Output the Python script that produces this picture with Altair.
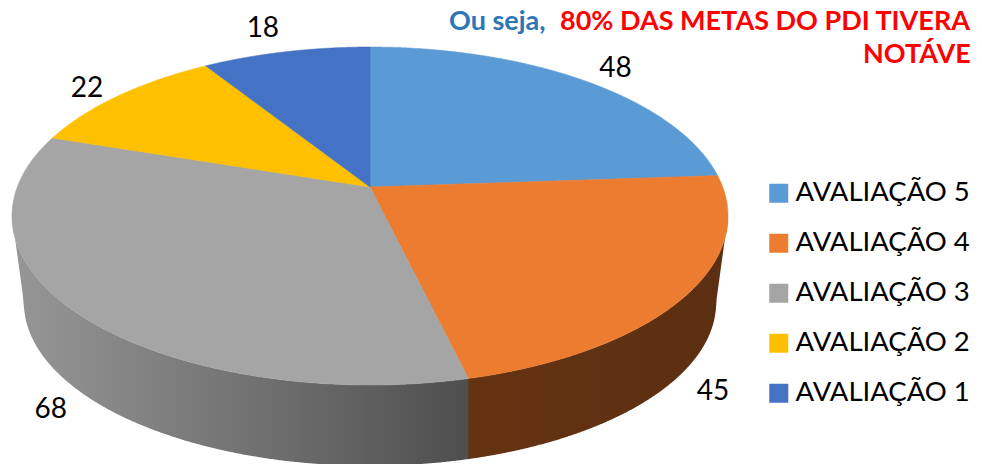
import numpy as np
import pandas as pd
import altair as alt

categories = ["AVALIAÇÃO 5", "AVALIAÇÃO 4", "AVALIAÇÃO 3", "AVALIAÇÃO 2", "AVALIAÇÃO 1"]
values = [48, 45, 68, 22, 18]
colors = ["#5B9BD5", "#EC7C30", "#A5A5A5", "#FFC000", "#4472C4"]
label_reach = [1.155, 1.107, 1.107, 1.106, 1.23]
label_nudge_x = [3, 0, 0, -8, -7]
label_nudge_y = [3, 1, -1, 2, 3]

FONT = "Lato"
W, H = 966, 456
# perspective of the pie disc
CX, CY, A, C, K = 370.0, 187.0, 352.7, 164.0, 0.1716
SHRINK, VANISH = 0.967, 2834.0


def top(t, r=1.0):
    u, v = r * np.sin(t), r * np.cos(t)
    w = 1 + K * v
    return CX + A * u / w, CY - C * v / w


def drop(x, y):
    return CX + SHRINK * (x - CX), y + (1 - SHRINK) * (VANISH - y)


total = sum(values)
edges = 2 * np.pi * np.cumsum([0] + values) / total

# top face of each slice
frames = []
for i, cat in enumerate(categories):
    t = np.linspace(edges[i], edges[i + 1], 240)
    px, py = top(t)
    px = np.r_[CX, px, CX]
    py = np.r_[CY, py, CY]
    grid = np.unique(np.r_[np.linspace(px.min(), px.max(), 300), px])
    hi, lo = [], []
    for g in grid:
        a, b = px[:-1], px[1:]
        ya, yb = py[:-1], py[1:]
        mask = (np.minimum(a, b) <= g) & (g <= np.maximum(a, b))
        f = np.where(b != a, (g - a) / np.where(b != a, b - a, 1), 0.0)
        ys = np.r_[(ya + f * (yb - ya))[mask], ya[mask & (a == g)], yb[mask & (b == g)]]
        hi.append(ys.min())
        lo.append(ys.max())
    frames.append(pd.DataFrame({"x": grid, "y": hi, "y2": lo, "cat": cat}))
faces = pd.concat(frames, ignore_index=True)

# front wall: top rim to bottom rim
t = np.linspace(np.pi / 2 - 0.22, 3 * np.pi / 2 + 0.22, 1200)
rx, ry = top(t)
bx, by = drop(rx, ry)
left_i = np.argmin(rx)
right_i = np.argmax(rx)
keep = (t >= t[right_i]) & (t <= t[left_i])
ex, ey = rx[keep], ry[keep]
lowx = np.r_[rx[right_i], bx[keep], rx[left_i]]
lowy = np.r_[ry[right_i], by[keep], ry[left_i]]
ox = np.argsort(ex)
lx = np.argsort(lowx)
split = top(edges[2])[0]


def wall(x0, x1):
    g = np.unique(np.r_[np.linspace(x0, x1, 300)])
    return pd.DataFrame({"x": g, "y": np.interp(g, ex[ox], ey[ox]),
                         "y2": np.interp(g, lowx[lx], lowy[lx])})


xs = alt.X("x:Q", axis=None, scale=alt.Scale(domain=[8, 974], nice=False, zero=False))
ys = alt.Y("y:Q", axis=None, scale=alt.Scale(domain=[464, 8], nice=False, zero=False))
y2 = alt.Y2("y2:Q")


def grad(stops):
    return alt.Gradient(gradient="linear", x1=0, x2=1, y1=0, y2=0,
                        stops=[alt.GradientStop(offset=o, color=c) for o, c in stops])


wall_gray = alt.Chart(wall(rx.min(), split + 1.0)).mark_area(
    color=grad([(0, "#979797"), (0.6, "#6c6c6c"), (1, "#4e4e4e")])
).encode(x=xs, y=ys, y2=y2)
wall_orange = alt.Chart(wall(split, rx.max())).mark_area(
    color=grad([(0, "#643312"), (1, "#5c2f12")])
).encode(x=xs, y=ys, y2=y2)

face_layer = alt.Chart(faces).mark_area(strokeWidth=0.6).encode(
    x=xs, y=ys, y2=y2,
    stroke=alt.Stroke("cat:N", scale=alt.Scale(domain=categories, range=colors), legend=None),
    color=alt.Color(
        "cat:N",
        scale=alt.Scale(domain=categories, range=colors),
        sort=categories,
        legend=alt.Legend(
            title=None, orient="none", legendX=757, legendY=171.5,
            symbolType="square", symbolSize=361, symbolStrokeWidth=0,
            labelFont=FONT, labelFontSize=27.5, labelColor="#000000",
            labelOffset=3, rowPadding=21, labelLimit=400,
        ),
    ),
)

# value labels
lab_x, lab_y = [], []
for i, v in enumerate(values):
    mid = (edges[i] + edges[i + 1]) / 2
    px, py = top(mid, label_reach[i])
    if np.cos(mid) < 0:
        px, py = drop(px, py)
    lab_x.append(float(px) + label_nudge_x[i])
    lab_y.append(float(py) + label_nudge_y[i])
labels = pd.DataFrame({"x": lab_x, "y": lab_y, "txt": [str(v) for v in values]})
label_layer = alt.Chart(labels).mark_text(
    font=FONT, fontSize=28, color="#000000", baseline="middle", align="center"
).encode(x=xs, y=ys, text="txt:N")

title_blue = "Ou seja,"
title_red = "80% DAS METAS DO PDI TIVERA"
title_red2 = "NOTÁVE"


def note(txt, color, px, py):
    return alt.Chart(pd.DataFrame({"txt": [txt]})).mark_text(
        font=FONT, fontSize=27, fontWeight="bold", color=color, align="left", baseline="alphabetic"
    ).encode(x=alt.value(px - 8), y=alt.value(py - 8), text="txt:N")


chart = alt.layer(
    wall_gray, wall_orange, face_layer, label_layer,
    note(title_blue, "#2E75B6", 449, 30),
    note(title_red, "#FF0000", 560, 30),
    note(title_red2, "#FF0000", 863, 63),
).properties(
    width=W, height=H, padding=0,
    autosize=alt.AutoSizeParams(type="none"),
    background="white",
).configure_view(stroke=None)

chart.save("out.html", embed_options={"renderer": "svg", "actions": False})
